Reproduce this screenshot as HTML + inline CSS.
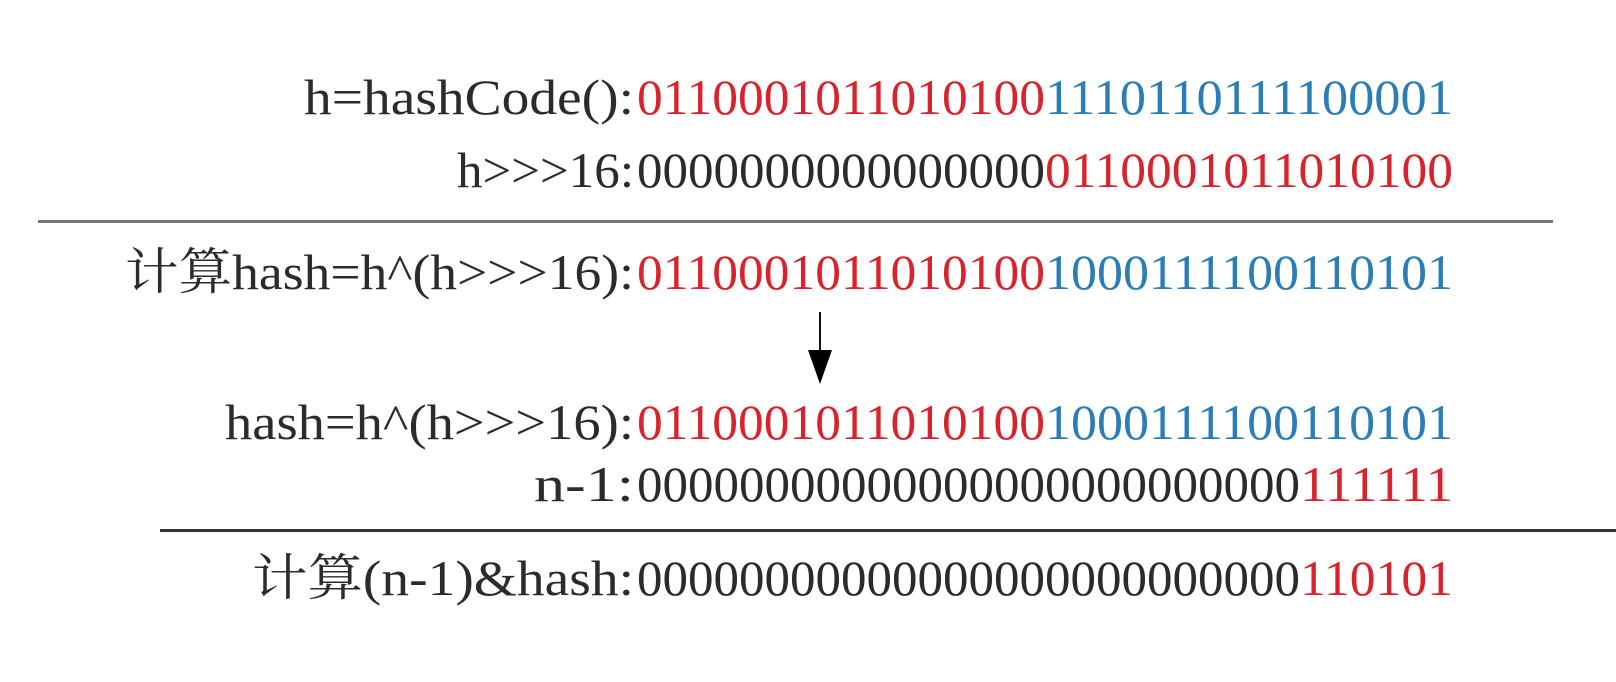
<!DOCTYPE html>
<html><head><meta charset="utf-8"><style>
html,body{margin:0;padding:0;background:#fff;}
svg{display:block;}
text{font-family:"Liberation Serif","Noto Serif CJK SC","Noto Sans CJK SC",serif;font-size:50px;}
.k{fill:#2b2b2b}.r{fill:#d8232c}.b{fill:#2a7db8}
</style></head><body>
<svg width="1616" height="682" viewBox="0 0 1616 682" xmlns="http://www.w3.org/2000/svg">
<!-- line 1 -->
<text class="k" x="304" y="114" textLength="330" lengthAdjust="spacingAndGlyphs">h=hashCode():</text>
<text class="r" x="637" y="114" textLength="408" lengthAdjust="spacingAndGlyphs">0110001011010100</text>
<text class="b" x="1045" y="114" textLength="408" lengthAdjust="spacingAndGlyphs">1110110111100001</text>
<!-- line 2 -->
<text class="k" x="457" y="187" textLength="177" lengthAdjust="spacingAndGlyphs">h&gt;&gt;&gt;16:</text>
<text class="k" x="637" y="187" textLength="408" lengthAdjust="spacingAndGlyphs">0000000000000000</text>
<text class="r" x="1045" y="187" textLength="408" lengthAdjust="spacingAndGlyphs">0110001011010100</text>
<rect x="38" y="220" width="1515" height="3" fill="#777"/>
<!-- line 3 -->
<text class="k" x="125" y="289" textLength="509" lengthAdjust="spacingAndGlyphs">计算hash=h^(h&gt;&gt;&gt;16):</text>
<text class="r" x="637" y="289" textLength="408" lengthAdjust="spacingAndGlyphs">0110001011010100</text>
<text class="b" x="1045" y="289" textLength="408" lengthAdjust="spacingAndGlyphs">1000111100110101</text>
<!-- arrow -->
<line x1="820" y1="312" x2="820" y2="355" stroke="#111" stroke-width="2"/>
<polygon points="808,350 832,350 820,384" fill="#000"/>
<!-- line 4 -->
<text class="k" x="225" y="439" textLength="409" lengthAdjust="spacingAndGlyphs">hash=h^(h&gt;&gt;&gt;16):</text>
<text class="r" x="637" y="439" textLength="408" lengthAdjust="spacingAndGlyphs">0110001011010100</text>
<text class="b" x="1045" y="439" textLength="408" lengthAdjust="spacingAndGlyphs">1000111100110101</text>
<!-- line 5 -->
<text class="k" x="534" y="501" textLength="100" lengthAdjust="spacingAndGlyphs">n-1:</text>
<text class="k" x="637" y="501" textLength="663" lengthAdjust="spacingAndGlyphs">00000000000000000000000000</text>
<text class="r" x="1300" y="501" textLength="153" lengthAdjust="spacingAndGlyphs">111111</text>
<rect x="160" y="529" width="1456" height="3" fill="#333"/>
<!-- line 6 -->
<text class="k" x="252" y="595" textLength="382" lengthAdjust="spacingAndGlyphs">计算(n-1)&amp;hash:</text>
<text class="k" x="637" y="595" textLength="663" lengthAdjust="spacingAndGlyphs">00000000000000000000000000</text>
<text class="r" x="1300" y="595" textLength="153" lengthAdjust="spacingAndGlyphs">110101</text>
</svg>
</body></html>
